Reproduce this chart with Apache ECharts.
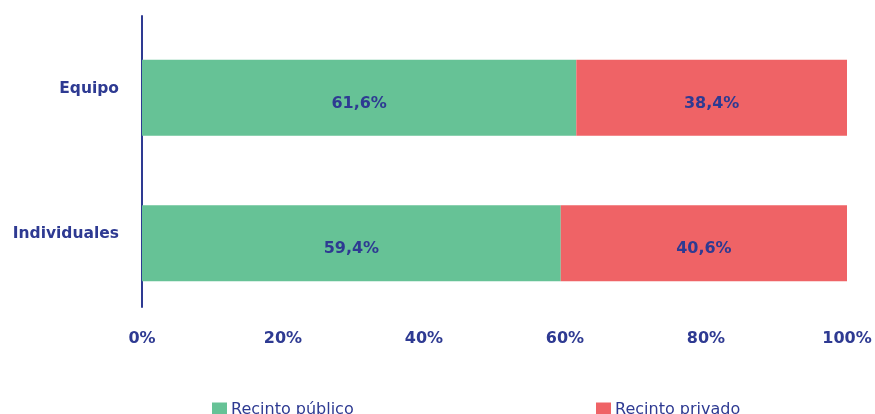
<!DOCTYPE html>
<html><head><meta charset="utf-8">
<script src="https://cdn.jsdelivr.net/npm/echarts@6/dist/echarts.min.js"></script>
<style>html,body{margin:0;padding:0;background:#fff}#c{width:875px;height:414px}</style>
</head><body><div id="c"></div>
<script>
const categories = ['Individuales', 'Equipo'];
const seriesNames = ['Recinto público', 'Recinto privado'];
const publico = [59.4, 61.6];
const privado = [40.6, 38.4];
const tickLabels = ['0%', '20%', '40%', '60%', '80%', '100%'];

const navy = '#2e3a92';
const font = 'DejaVu Sans';
const chart = echarts.init(document.getElementById('c'));
const fmt = v => v.toFixed(1).replace('.', ',') + '%';
chart.setOption({
  animation: false,
  grid: [
    {left: 142, width: 705, top: 25, height: 291, containLabel: false},
    {left: 142, width: 705, top: 16, height: 291, containLabel: false}
  ],
  legend: [
    {data: [seriesNames[0]], left: 207, top: 397, itemWidth: 15, itemHeight: 15, itemGap: 0,
     icon: 'rect', textStyle: {color: navy, fontSize: 16, fontFamily: font, padding: [0,0,0,-1]}},
    {data: [seriesNames[1]], left: 591, top: 397, itemWidth: 15, itemHeight: 15, itemGap: 0,
     icon: 'rect', textStyle: {color: navy, fontSize: 16, fontFamily: font, padding: [0,0,0,-1]}}
  ],
  xAxis: [
    {gridIndex: 0, type: 'value', min: 0, max: 100, interval: 20,
     axisLine: {show: false}, axisTick: {show: false}, splitLine: {show: false},
     axisLabel: {margin: 15, color: navy, fontWeight: 'bold', fontSize: 16, fontFamily: font,
       formatter: v => tickLabels[Math.round(v / 20)]}},
    {gridIndex: 1, type: 'value', min: 0, max: 100, show: false}
  ],
  yAxis: [
    {gridIndex: 0, type: 'category', data: categories,
     axisLine: {show: false}, axisTick: {show: false}, axisLabel: {show: false}},
    {gridIndex: 1, type: 'category', data: categories,
     axisLine: {show: true, lineStyle: {color: navy, width: 2}}, axisTick: {show: false},
     axisLabel: {margin: 23, color: navy, fontWeight: 'bold', fontSize: 15.5, fontFamily: font,
       padding: [3, 0, 0, 0]}}
  ],
  series: [
    {name: seriesNames[0], type: 'bar', stack: 's', xAxisIndex: 0, yAxisIndex: 0, data: publico,
     barWidth: 76, itemStyle: {color: '#66c296'},
     label: {show: true, position: 'inside', offset: [0, 6], color: navy, fontWeight: 'bold', fontSize: 16, fontFamily: font,
       formatter: p => fmt(p.value)}},
    {name: seriesNames[1], type: 'bar', stack: 's', xAxisIndex: 0, yAxisIndex: 0, data: privado,
     barWidth: 76, itemStyle: {color: '#ef6366'},
     label: {show: true, position: 'inside', offset: [0, 6], color: navy, fontWeight: 'bold', fontSize: 16, fontFamily: font,
       formatter: p => fmt(p.value)}}
  ]
});
</script></body></html>
